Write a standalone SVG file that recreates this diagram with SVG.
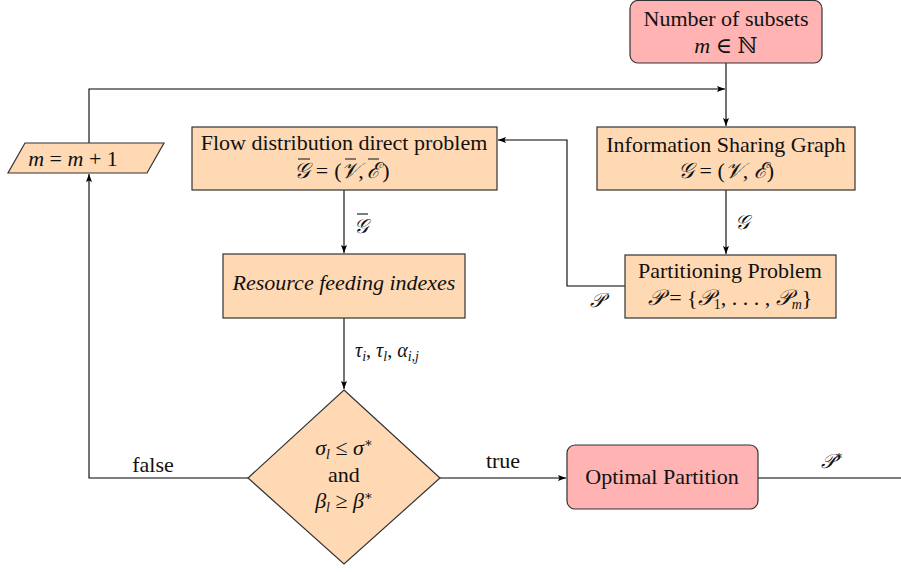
<svg xmlns="http://www.w3.org/2000/svg" width="901" height="572" viewBox="0 0 901 572">
<style>
text{font-family:"Liberation Serif","Times New Roman","DejaVu Serif",serif;font-size:22px;fill:#111;text-anchor:middle}
.it{font-style:italic}
.box{fill:#ffd9b3;stroke:#333;stroke-width:1.2}
.red{fill:#ffb3b3;stroke:#333;stroke-width:1.2}
.edge{fill:none;stroke:#000;stroke-width:1.1}
.bar{fill:none;stroke:#111;stroke-width:1.1}
.lab{font-size:20px}
</style>
<defs>
<marker id="ar" viewBox="0 0 8 6" refX="8" refY="3" markerWidth="8" markerHeight="6" markerUnits="userSpaceOnUse" orient="auto">
<path d="M0,0 L8,3 L0,6 L1.5,3 Z" fill="#000"/>
</marker>
</defs>
<rect width="901" height="572" fill="#fff"/>
<g id="connectors">
<path class="edge" d="M726,63 V126" marker-end="url(#ar)"/>
<path class="edge" d="M89,143 V89 H725" marker-end="url(#ar)"/>
<path class="edge" d="M726,190 V254" marker-end="url(#ar)"/>
<path class="edge" d="M625,286 H567 V140 H498" marker-end="url(#ar)"/>
<path class="edge" d="M344,190 V253" marker-end="url(#ar)"/>
<path class="edge" d="M344,318 V389" marker-end="url(#ar)"/>
<path class="edge" d="M248,478 H89 V174" marker-end="url(#ar)"/>
<path class="edge" d="M440,478 H566" marker-end="url(#ar)"/>
<path class="edge" d="M758,478 H901"/>
<text x="742" y="229" class="it lab">𝒢</text>
<text x="597" y="307" class="it lab">𝒫</text>
<text x="361" y="233" class="it lab">𝒢</text>
<path class="bar" d="M357,214 H368"/>
<text x="355" y="357" class="lab" style="text-anchor:start"><tspan class="it">τ</tspan><tspan class="it" font-size="14" dy="4">i</tspan><tspan dy="-4">, </tspan><tspan class="it">τ</tspan><tspan class="it" font-size="14" dy="4">l</tspan><tspan dy="-4">, </tspan><tspan class="it">α</tspan><tspan class="it" font-size="14" dy="4">i,j</tspan></text>
<text x="153" y="472">false</text>
<text x="503" y="468">true</text>
<text x="832" y="468" class="lab"><tspan class="it">𝒫</tspan><tspan font-size="13" dy="-8">∗</tspan></text>
</g>
<g id="n-subsets">
<rect class="red" x="630" y="0.5" width="192" height="62.5" rx="8"/>
<text x="726" y="26">Number of subsets</text>
<text x="726" y="53"><tspan class="it">m</tspan> ∈ ℕ</text>
</g>
<g id="n-inc">
<polygon class="box" points="25,143 164,143 147,173 8,173"/>
<text x="73" y="166"><tspan class="it">m</tspan> = <tspan class="it">m</tspan> + 1</text>
</g>
<g id="n-flow">
<rect class="box" x="192" y="127" width="305" height="63"/>
<text x="344" y="150">Flow distribution direct problem</text>
<text y="178"><tspan x="302" class="it">𝒢</tspan><tspan x="322">=</tspan><tspan x="338">(</tspan><tspan x="350" class="it">𝒱</tspan><tspan x="361">,</tspan><tspan x="373" class="it">ℰ</tspan><tspan x="386">)</tspan></text>
<path class="bar" d="M298,159 H310 M345,159 H356 M368,159 H379"/>
</g>
<g id="n-isg">
<rect class="box" x="597" y="127" width="258" height="63"/>
<text x="726" y="152">Information Sharing Graph</text>
<text x="726" y="178"><tspan class="it">𝒢</tspan> = (<tspan class="it">𝒱</tspan>, <tspan class="it">ℰ</tspan>)</text>
</g>
<g id="n-part">
<rect class="box" x="625" y="255" width="211" height="63"/>
<text x="730" y="278">Partitioning Problem</text>
<text x="730" y="305"><tspan class="it">𝒫</tspan> = {<tspan class="it">𝒫</tspan><tspan font-size="14" dy="4">1</tspan><tspan dy="-4">, . . . , </tspan><tspan class="it">𝒫</tspan><tspan class="it" font-size="14" dy="4">m</tspan><tspan dy="-4">}</tspan></text>
</g>
<g id="n-rfi">
<rect class="box" x="223" y="254" width="242" height="64"/>
<text x="344" y="290" class="it">Resource feeding indexes</text>
</g>
<g id="n-cond">
<polygon class="box" points="344,390 440,478 344,564 248,478"/>
<text x="344" y="455"><tspan class="it">σ</tspan><tspan class="it" font-size="14" dy="4">l</tspan><tspan dy="-4"> ≤ </tspan><tspan class="it">σ</tspan><tspan font-size="13" dy="-8">∗</tspan></text>
<text x="344" y="482">and</text>
<text x="344" y="508"><tspan class="it">β</tspan><tspan class="it" font-size="14" dy="4">l</tspan><tspan dy="-4"> ≥ </tspan><tspan class="it">β</tspan><tspan font-size="13" dy="-8">∗</tspan></text>
</g>
<g id="n-opt">
<rect class="red" x="567" y="445" width="191" height="64" rx="8"/>
<text x="662" y="484">Optimal Partition</text>
</g>
</svg>
